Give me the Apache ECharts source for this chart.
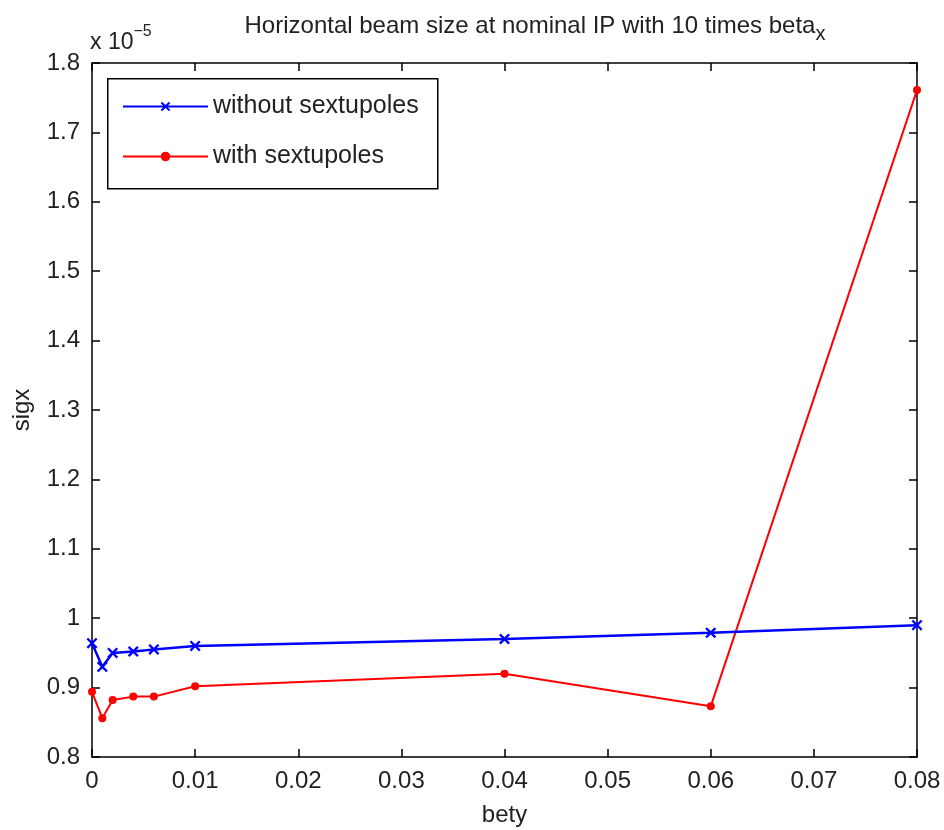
<!DOCTYPE html>
<html><head><meta charset="utf-8">
<script src="https://cdn.jsdelivr.net/npm/echarts@6/dist/echarts.min.js"></script>
<style>html,body{margin:0;padding:0;background:#fff}#c{width:944px;height:830px}</style>
</head><body><div id="c"></div>
<script>
const bety = [0, 0.001, 0.002, 0.004, 0.006, 0.01, 0.04, 0.06, 0.08];
const withoutSext = [0.964, 0.930, 0.950, 0.952, 0.955, 0.960, 0.970, 0.979, 0.990];
const withSext = [0.894, 0.856, 0.882, 0.887, 0.887, 0.902, 0.920, 0.873, 1.761];
const xTicks = [0, 0.01, 0.02, 0.03, 0.04, 0.05, 0.06, 0.07, 0.08];
const yTicks = [0.8, 0.9, 1, 1.1, 1.2, 1.3, 1.4, 1.5, 1.6, 1.7, 1.8];
const seriesNames = ['without sextupoles', 'with sextupoles'];

const font = 'Liberation Sans, Arial, sans-serif';
const txt = '#222';
const chart = echarts.init(document.getElementById('c'));
const xMark = 'path://M0,1.5L1.5,0L5,3.5L8.5,0L10,1.5L6.5,5L10,8.5L8.5,10L5,6.5L1.5,10L0,8.5L3.5,5Z';
const axisBase = {
  type: 'value',
  axisLine: {show: true, onZero: false, lineStyle: {color: '#000', width: 1.5}},
  axisTick: {show: true, inside: true, length: 8, lineStyle: {color: '#000', width: 1.5}},
  splitLine: {show: false}
};
chart.setOption({
  animation: false,
  backgroundColor: '#fff',
  title: {
    text: '{a|Horizontal beam size at nominal IP with 10 times beta}{s|x}',
    left: 530, textAlign: 'center', top: 3,
    textStyle: {fontWeight: 'normal', rich: {
      a: {fontFamily: font, fontSize: 24, color: txt, fontWeight: 'normal'},
      s: {fontFamily: font, fontSize: 20, color: txt, fontWeight: 'normal', padding: [16, 0, 0, 0]}
    }}
  },
  graphic: [{
    type: 'text', left: 90, top: 24,
    style: {text: '{a|x 10}{e|−5}', rich: {
      a: {fontFamily: font, fontSize: 23, fill: txt, padding: [10, 0, 0, 0]},
      e: {fontFamily: font, fontSize: 16, fill: txt, padding: [0, 0, 12, 0]}
    }}
  }, {
    type: 'rect', left: 107, top: 78, z: 10,
    shape: {width: 330, height: 110},
    style: {fill: '#fff', stroke: '#000', lineWidth: 1.5}
  }],
  grid: {left: 92, right: 27, top: 63, bottom: 73, containLabel: false, outerBoundsMode: 'none'},
  legend: {
    left: 107, top: 78, orient: 'vertical',
    padding: [16, 10, 10, 15],
    itemGap: 25,
    itemWidth: 85, itemHeight: 12,
    z: 20,
    textStyle: {fontFamily: font, fontSize: 25, color: txt},
    data: seriesNames
  },
  xAxis: [
    Object.assign({}, axisBase, {
      min: 0, max: 0.08, interval: 0.01, position: 'bottom',
      name: 'bety', nameLocation: 'middle', nameGap: 46,
      nameTextStyle: {fontFamily: font, fontSize: 24, color: txt},
      axisLabel: {fontFamily: font, fontSize: 24, color: txt, margin: 12,
        formatter: v => { const t = xTicks.find(k => Math.abs(k - v) < 1e-9); return t === undefined ? '' : String(t); }}
    }),
    Object.assign({}, axisBase, {min: 0, max: 0.08, interval: 0.01, position: 'top', axisLabel: {show: false}})
  ],
  yAxis: [
    Object.assign({}, axisBase, {
      min: 0.8, max: 1.8, interval: 0.1, position: 'left',
      name: 'sigx', nameLocation: 'middle', nameGap: 58,
      nameTextStyle: {fontFamily: font, fontSize: 24, color: txt},
      axisLabel: {fontFamily: font, fontSize: 24, color: txt, margin: 12,
        formatter: v => { const t = yTicks.find(k => Math.abs(k - v) < 1e-9); return t === undefined ? '' : String(t); }}
    }),
    Object.assign({}, axisBase, {min: 0.8, max: 1.8, interval: 0.1, position: 'right', axisLabel: {show: false}})
  ],
  series: [
    {
      name: seriesNames[0], type: 'line', xAxisIndex: 0, yAxisIndex: 0,
      data: bety.map((x, i) => [x, withoutSext[i]]),
      symbol: xMark, symbolSize: 11, showAllSymbol: true,
      lineStyle: {color: '#0000ff', width: 2.5},
      itemStyle: {color: '#0000ff'},
      z: 3
    },
    {
      name: seriesNames[1], type: 'line', xAxisIndex: 0, yAxisIndex: 0,
      data: bety.map((x, i) => [x, withSext[i]]),
      symbol: 'circle', symbolSize: 8, showAllSymbol: true,
      lineStyle: {color: '#ff0000', width: 2},
      itemStyle: {color: '#ff0000'},
      z: 2
    }
  ]
});
</script></body></html>
